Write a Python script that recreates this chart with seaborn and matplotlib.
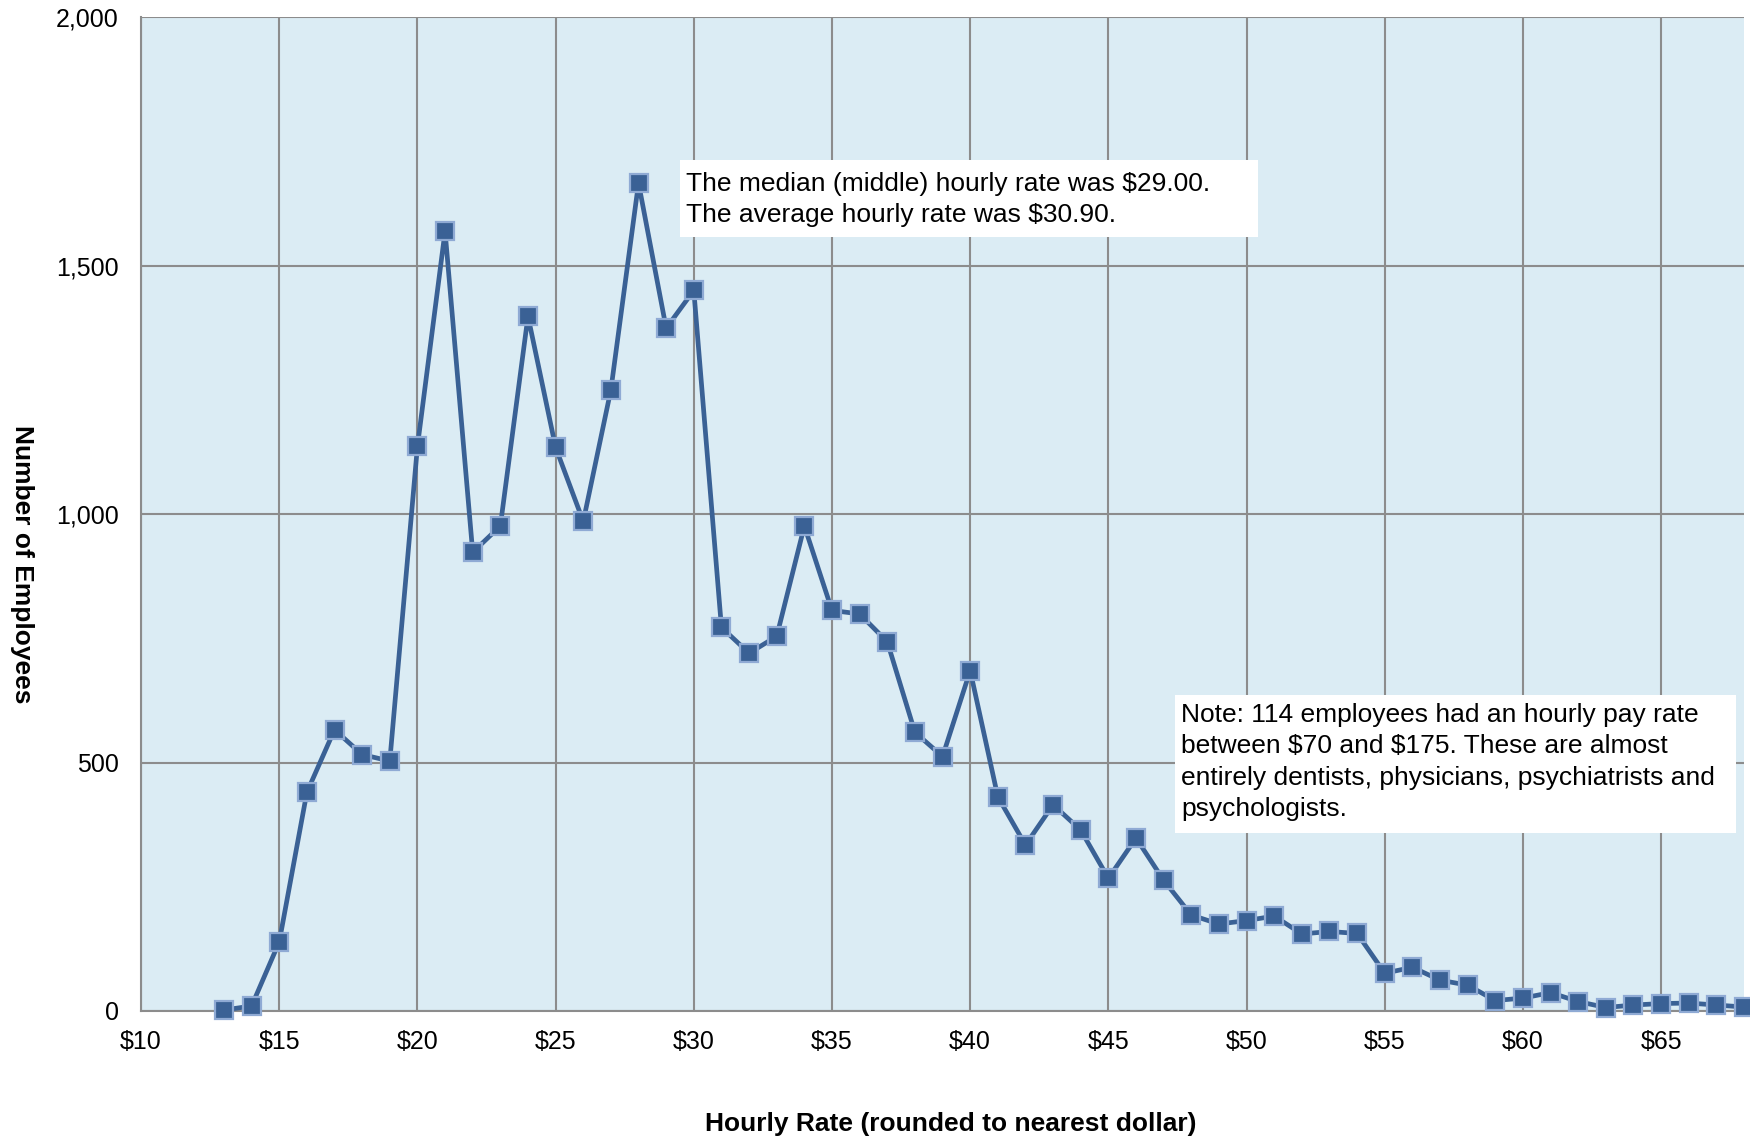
import matplotlib
matplotlib.use("Agg")
import matplotlib.pyplot as plt
import matplotlib.patches as mpatches
from matplotlib.ticker import FuncFormatter
import pandas as pd
import seaborn as sns

# Hourly rate (rounded) and employee counts
rates = list(range(13, 69))
employees = [2, 10, 139, 440, 566, 516, 503, 1136, 1569, 923,
             976, 1398, 1134, 985, 1250, 1666, 1374, 1450, 772, 720,
             754, 976, 806, 799, 743, 561, 512, 685, 431, 334,
             415, 364, 267, 348, 263, 193, 175, 182, 191, 155,
             160, 156, 76, 88, 62, 52, 21, 26, 37, 19,
             7, 12, 15, 16, 12, 8]

x_ticks = list(range(10, 66, 5))
y_ticks = [0, 500, 1000, 1500, 2000]

note_median = "The median (middle) hourly rate was $29.00.\nThe average hourly rate was $30.90."
note_high = ("Note: 114 employees had an hourly pay rate\n"
             "between $70 and $175. These are almost\n"
             "entirely dentists, physicians, psychiatrists and\n"
             "psychologists.")

df = pd.DataFrame({"rate": rates, "employees": employees})

sns.set_style("white")
plt.rcParams["font.family"] = ["Liberation Sans", "DejaVu Sans"]
plt.rcParams["text.parse_math"] = False
plt.rcParams["text.color"] = "black"

fig = plt.figure(figsize=(17.5, 11.38), dpi=100)
ax = fig.add_axes([0.0806, 0.1116, 0.9160, 0.8734])
ax.set_facecolor("#DBECF4")

sns.lineplot(data=df, x="rate", y="employees", ax=ax, color="#3A6195",
             linewidth=3.4, marker="s", markersize=13,
             markerfacecolor="#3A6195", markeredgecolor="#8FAAD4",
             markeredgewidth=1.6, clip_on=False, zorder=5)

ax.set_xlim(10, 68)
ax.set_ylim(0, 2000)
ax.set_xticks(x_ticks)
ax.set_yticks(y_ticks)
ax.xaxis.set_major_formatter(FuncFormatter(lambda v, p: f"${int(v)}"))
ax.yaxis.set_major_formatter(FuncFormatter(lambda v, p: f"{int(v):,}"))

ax.grid(True, color="#8C8C8C", linewidth=1.5)
ax.set_axisbelow(True)
for s in ["top", "right"]:
    ax.spines[s].set_visible(False)
for s in ["left", "bottom"]:
    ax.spines[s].set_color("#8C8C8C")
    ax.spines[s].set_linewidth(1.5)
ax.tick_params(axis="both", colors="#8C8C8C", length=6, width=1.5,
               labelcolor="black", labelsize=18)
ax.tick_params(axis="x", pad=8)
ax.tick_params(axis="y", pad=10)

ax.set_xlabel("")
ax.set_ylabel("")
fig.text(0.5434, 1 - 1124 / 1138, "Hourly Rate (rounded to nearest dollar)",
         ha="center", va="center", fontsize=19, fontweight="bold")
fig.text(22 / 1750, 1 - 564 / 1138, "Number of Employees", rotation=-90,
         ha="center", va="center", fontsize=19, fontweight="bold")

# note boxes
ax.add_patch(mpatches.Rectangle((0.336, 0.779), 0.361, 0.0775, transform=ax.transAxes,
                                facecolor="white", edgecolor="none", zorder=3))
ax.text(0.340, 0.8165, note_median, transform=ax.transAxes, ha="left", va="center",
        fontsize=19, linespacing=1.4, zorder=4)
ax.add_patch(mpatches.Rectangle((0.645, 0.179), 0.350, 0.139, transform=ax.transAxes,
                                facecolor="white", edgecolor="none", zorder=3))
ax.text(0.649, 0.2505, note_high, transform=ax.transAxes, ha="left", va="center",
        fontsize=19, linespacing=1.4, zorder=4)

fig.savefig("out.png", dpi=100)
